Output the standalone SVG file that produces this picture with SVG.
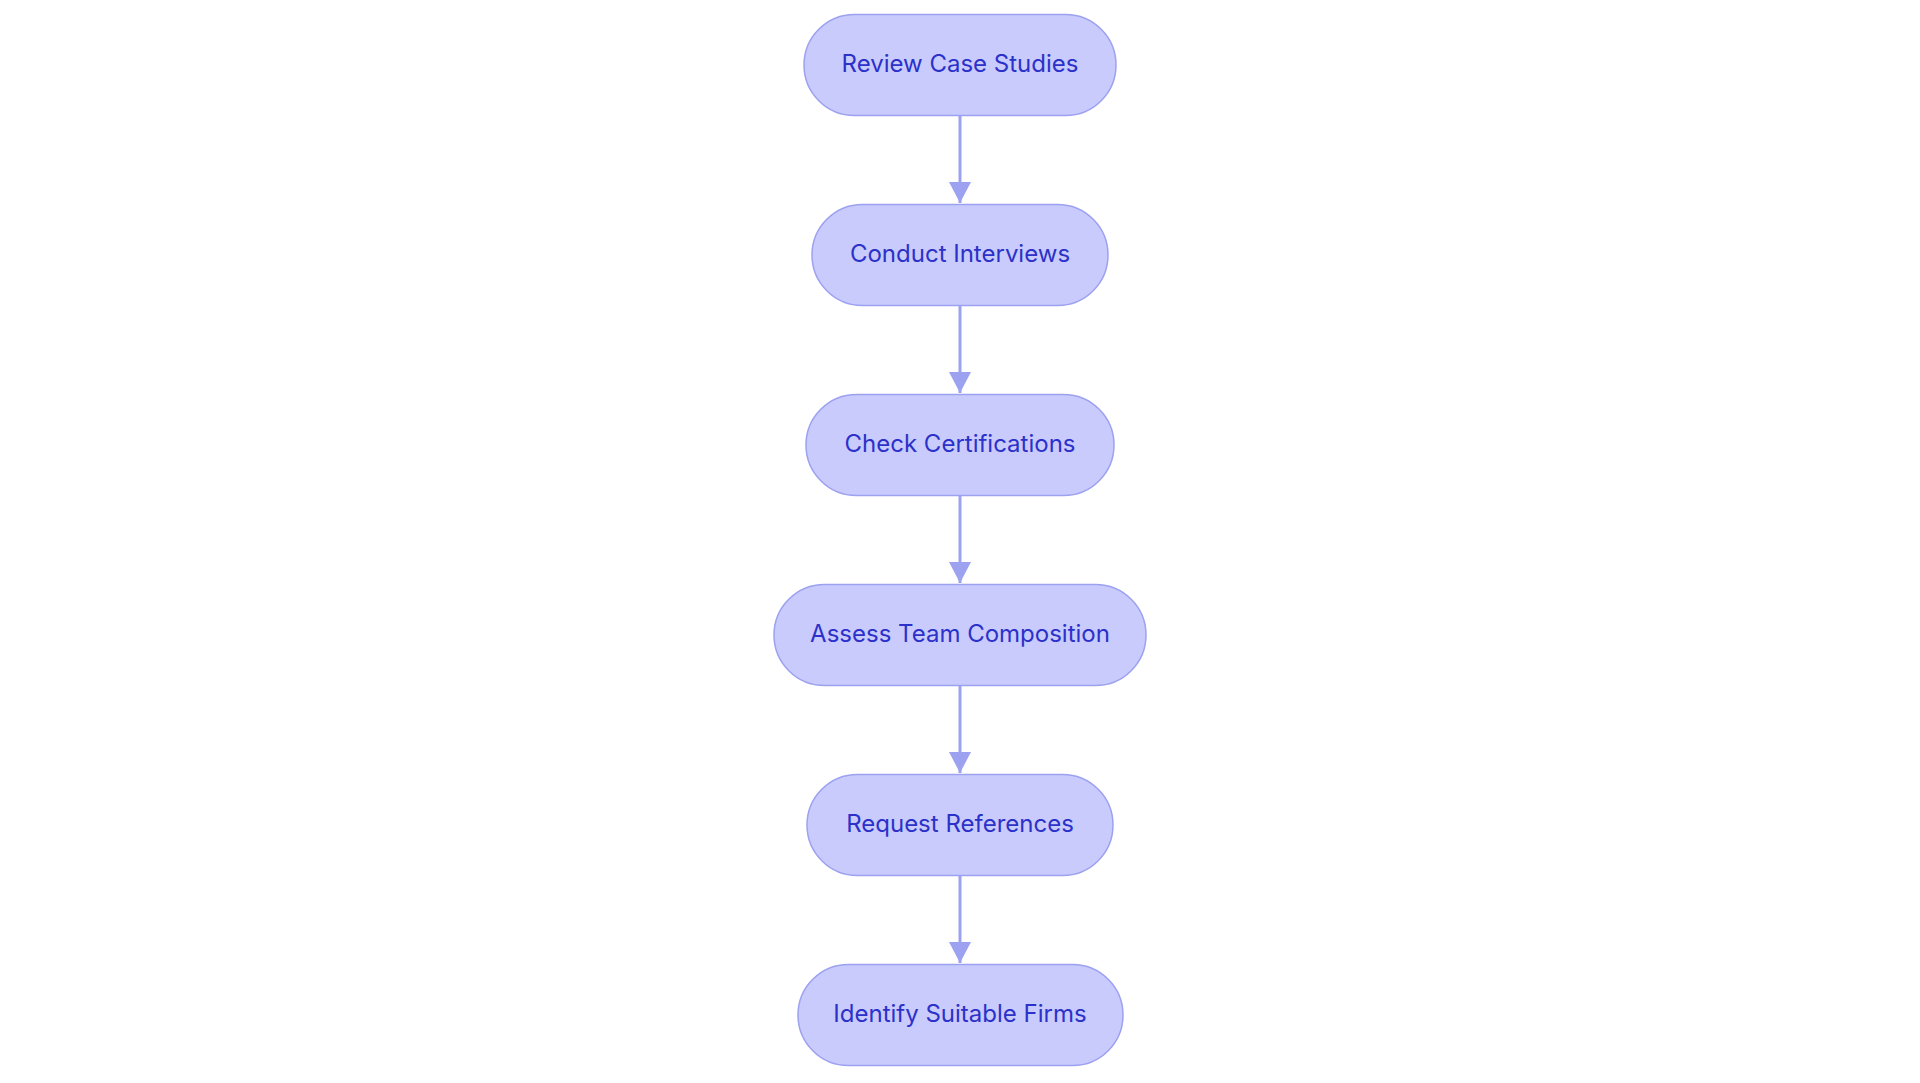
<svg xmlns="http://www.w3.org/2000/svg" width="1920" height="1083" viewBox="0 0 1920 1083">
<style>
.node rect{fill:#c9cbfd;stroke:#9ca1f0;stroke-width:1.5}
.node text{font-family:Inter,"Noto Sans",sans-serif;font-size:24px;fill:#2b31c9;text-anchor:middle}
.edge{stroke:#9ca1f0;stroke-width:3;fill:none}
</style>
<defs>
<marker id="arr" markerWidth="22" markerHeight="21" refX="11" refY="21" orient="0" markerUnits="userSpaceOnUse">
<path d="M0,0 L22,0 L11,21 Z" fill="#9ca1f0"/>
</marker>
</defs>
<rect width="1920" height="1083" fill="#ffffff"/>
<g id="connectors">
<line class="edge" x1="960" y1="115" x2="960" y2="203" marker-end="url(#arr)"/>
<line class="edge" x1="960" y1="305" x2="960" y2="393" marker-end="url(#arr)"/>
<line class="edge" x1="960" y1="495" x2="960" y2="583" marker-end="url(#arr)"/>
<line class="edge" x1="960" y1="685" x2="960" y2="773" marker-end="url(#arr)"/>
<line class="edge" x1="960" y1="875" x2="960" y2="963" marker-end="url(#arr)"/>
</g>
<g id="n1" class="node"><rect x="804" y="14.5" width="312" height="101" rx="50.5"/><text x="960" y="72">Review Case Studies</text></g>
<g id="n2" class="node"><rect x="812" y="204.5" width="296" height="101" rx="50.5"/><text x="960" y="262">Conduct Interviews</text></g>
<g id="n3" class="node"><rect x="806" y="394.5" width="308" height="101" rx="50.5"/><text x="960" y="452">Check Certifications</text></g>
<g id="n4" class="node"><rect x="774" y="584.5" width="372" height="101" rx="50.5"/><text x="960" y="642">Assess Team Composition</text></g>
<g id="n5" class="node"><rect x="807" y="774.5" width="306" height="101" rx="50.5"/><text x="960" y="832">Request References</text></g>
<g id="n6" class="node"><rect x="798" y="964.5" width="325" height="101" rx="50.5"/><text x="960" y="1022">Identify Suitable Firms</text></g>
</svg>
